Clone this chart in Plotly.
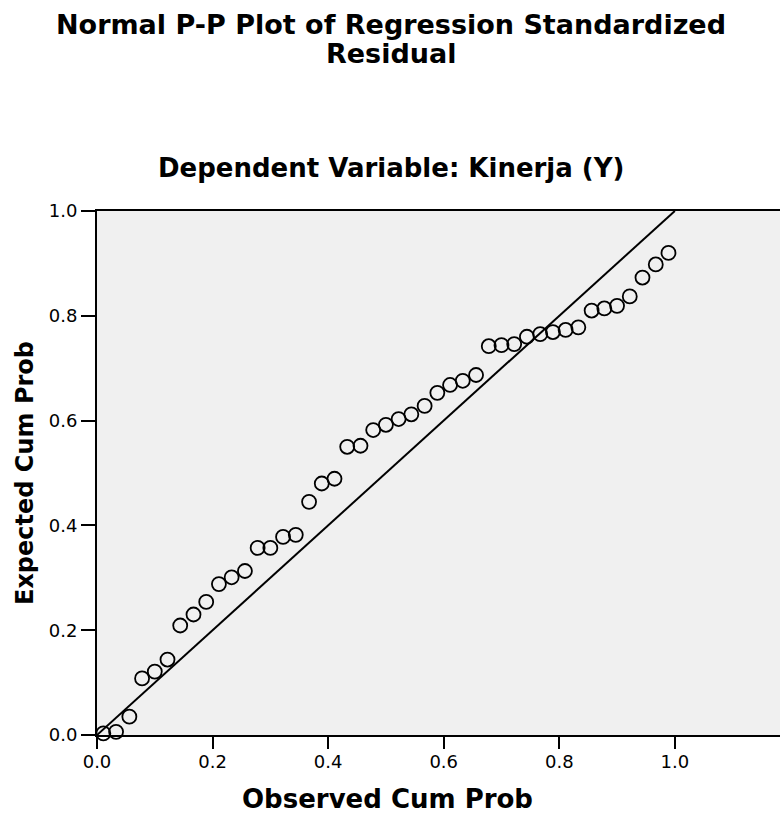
import plotly.graph_objects as go

observed_cum_prob = [0.011, 0.033, 0.056, 0.078, 0.100, 0.122, 0.144, 0.167, 0.189, 0.211,
                     0.233, 0.256, 0.278, 0.300, 0.322, 0.344, 0.367, 0.389, 0.411, 0.433,
                     0.456, 0.478, 0.500, 0.522, 0.544, 0.567, 0.589, 0.611, 0.633, 0.656,
                     0.678, 0.700, 0.722, 0.744, 0.767, 0.789, 0.811, 0.833, 0.856, 0.878,
                     0.900, 0.922, 0.944, 0.967, 0.989]
expected_cum_prob = [0.003, 0.006, 0.035, 0.108, 0.121, 0.144, 0.209, 0.230, 0.254, 0.288,
                     0.301, 0.313, 0.357, 0.357, 0.378, 0.382, 0.445, 0.480, 0.489, 0.550,
                     0.552, 0.582, 0.592, 0.603, 0.612, 0.628, 0.653, 0.668, 0.676, 0.687,
                     0.742, 0.744, 0.746, 0.760, 0.765, 0.769, 0.773, 0.778, 0.810, 0.814,
                     0.819, 0.837, 0.873, 0.898, 0.920]
ref_line = [0.0, 1.0]
tick_vals = [0.0, 0.2, 0.4, 0.6, 0.8, 1.0]
tick_text = ["0.0", "0.2", "0.4", "0.6", "0.8", "1.0"]

FONT = "DejaVu Sans, sans-serif"
W, H = 780, 816
ML, MR, MT, MB = 97, 0, 211, 81
PW, PH = W - ML - MR, H - MT - MB


def px_ann(text, x, y, size, angle=0, yanchor="middle"):
    return dict(text=text, x=(x - ML) / PW, y=(H - MB - y) / PH,
                xref="paper", yref="paper", showarrow=False, textangle=angle,
                font=dict(size=size, family=FONT, color="black"),
                xanchor="center", yanchor=yanchor, borderpad=0)


fig = go.Figure()
fig.add_trace(go.Scatter(x=ref_line, y=ref_line, mode="lines",
                         line=dict(color="black", width=2), hoverinfo="skip"))
fig.add_trace(go.Scatter(x=observed_cum_prob, y=expected_cum_prob, mode="markers",
                         marker=dict(symbol="circle-open", size=14,
                                     line=dict(color="black", width=1.8), color="black"),
                         cliponaxis=False))

fig.update_layout(
    width=W, height=H,
    margin=dict(l=ML, r=MR, t=MT, b=MB),
    paper_bgcolor="white", plot_bgcolor="#f0f0f0",
    showlegend=False,
    font=dict(family=FONT, color="black", size=18),
    annotations=[
        px_ann("<b>Normal P-P Plot of Regression Standardized</b>", 391, 25, 27),
        px_ann("<b>Residual</b>", 391, 53, 27),
        px_ann("<b>Dependent Variable: Kinerja (Y)</b>", 391, 168, 26),
        px_ann("<b>Observed Cum Prob</b>", 387, 815, 26, yanchor="bottom"),
        px_ann("<b>Expected Cum Prob</b>", 25, 473, 24, angle=-90),
    ],
)

fig.update_xaxes(range=[0, 1.182], tickvals=tick_vals, ticktext=tick_text,
                 showgrid=False, zeroline=False, showline=True, linecolor="black",
                 linewidth=2, mirror=True, ticks="outside", ticklen=12, tickwidth=2,
                 tickcolor="black", tickfont=dict(size=18), ticklabelstandoff=-3)
fig.update_yaxes(range=[0, 1.0], tickvals=tick_vals, ticktext=tick_text,
                 showgrid=False, zeroline=False, showline=True, linecolor="black",
                 linewidth=2, ticks="outside", ticklen=14, tickwidth=2,
                 tickcolor="black", tickfont=dict(size=18))

fig.write_html("out.html")
